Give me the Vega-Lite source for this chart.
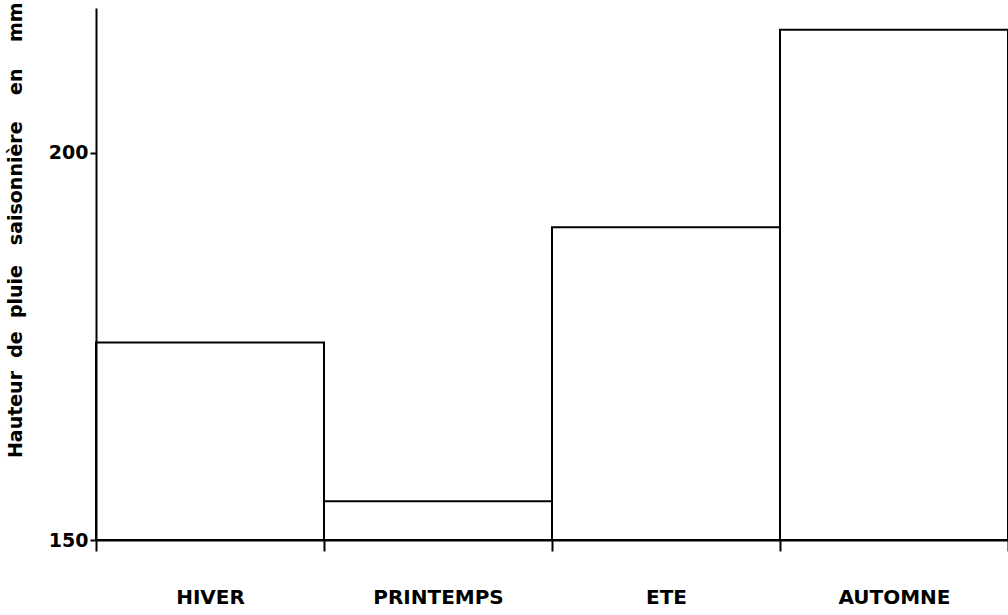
{
  "$schema": "https://vega.github.io/schema/vega-lite/v6.json",
  "autosize": {"type": "none"},
  "width": 912,
  "height": 532,
  "padding": {"left": 96, "top": 8, "right": 0, "bottom": 75},
  "background": "white",
  "config": {
    "view": {"stroke": null},
    "font": "DejaVu Sans"
  },
  "data": {
    "values": [
      {"saison": "HIVER", "pluie": 175.5},
      {"saison": "PRINTEMPS", "pluie": 155.0},
      {"saison": "ETE", "pluie": 190.4},
      {"saison": "AUTOMNE", "pluie": 215.9}
    ]
  },
  "mark": {"type": "bar", "fill": "white", "stroke": "black", "strokeWidth": 2},
  "encoding": {
    "x": {
      "field": "saison",
      "type": "nominal",
      "sort": null,
      "scale": {"paddingInner": 0, "paddingOuter": 0},
      "axis": {
        "title": null,
        "zindex": 1,
        "labelAngle": 0,
        "tickBand": "extent",
        "tickSize": 11,
        "tickWidth": 2,
        "tickColor": "black",
        "domainColor": "black",
        "domainWidth": 2,
        "labelFont": "DejaVu Sans",
        "labelFontWeight": "bold",
        "labelFontSize": 20,
        "labelColor": "black",
        "labelPadding": 36
      }
    },
    "y": {
      "field": "pluie",
      "type": "quantitative",
      "scale": {"domain": [150, 218.7], "nice": false, "zero": false},
      "axis": {
        "values": [150, 200],
        "zindex": 1,
        "grid": false,
        "tickSize": 6,
        "tickWidth": 2,
        "tickColor": "black",
        "domainColor": "black",
        "domainWidth": 2,
        "labelFont": "DejaVu Sans",
        "labelFontWeight": "bold",
        "labelFontSize": 19,
        "labelColor": "black",
        "labelPadding": 2,
        "title": "Hauteur\u00a0 de\u00a0 pluie\u00a0\u00a0 saisonnière\u00a0\u00a0\u00a0 en\u00a0\u00a0\u00a0 mm",
        "titleFont": "DejaVu Sans",
        "titleFontWeight": "bold",
        "titleFontSize": 19,
        "titleColor": "black",
        "titleAngle": -90,
        "titleAnchor": "end",
        "titleAlign": "right",
        "titleBaseline": "middle",
        "titleX": -81,
        "titleY": -6
      }
    },
    "y2": {"datum": 150}
  }
}
